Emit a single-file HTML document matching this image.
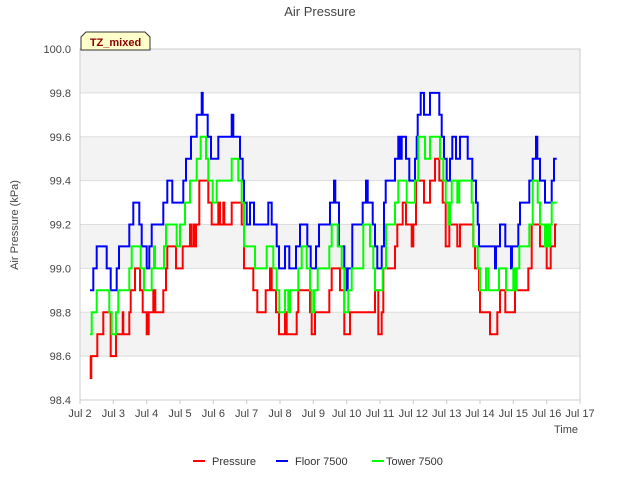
<!DOCTYPE html>
<html><head><meta charset="utf-8"><style>
body{margin:0;background:#fff;font-family:"Liberation Sans",sans-serif}
</style></head><body>
<svg width="640" height="480" xmlns="http://www.w3.org/2000/svg" font-family="Liberation Sans, sans-serif">
<text x="320" y="16" text-anchor="middle" font-size="13" fill="#444">Air Pressure</text>
<g id="bands"></g><g id="grid"></g><g id="yticks"></g><g id="xticks"></g>
<rect x="80" y="49" width="500" height="351" fill="none" stroke="#ccc"/>
<g id="series"></g>
<text transform="translate(18,225) rotate(-90)" text-anchor="middle" font-size="11" fill="#444">Air Pressure (kPa)</text>
<text x="578" y="433" text-anchor="end" font-size="11" fill="#444">Time</text>
<g><path d="M81,50 L81,37 L86,32 L145,32 L150,37 L150,50 Z" fill="#ffffcc" stroke="#333"/>
<text x="115.5" y="46" text-anchor="middle" font-size="11" font-weight="bold" fill="#8b0000">TZ_mixed</text></g>
<g>
<line x1="193" y1="461" x2="205" y2="461" stroke="#f00" stroke-width="2"/>
<text x="212" y="465" font-size="11" fill="#333">Pressure</text>
<line x1="276" y1="461" x2="288" y2="461" stroke="#00f" stroke-width="2"/>
<text x="295" y="465" font-size="11" fill="#333">Floor 7500</text>
<line x1="372" y1="461" x2="384" y2="461" stroke="#0f0" stroke-width="2"/>
<text x="386" y="465" font-size="11" fill="#333">Tower 7500</text>
</g>
</svg>
<script>
const yTicks=[98.4,98.6,98.8,99.0,99.2,99.4,99.6,99.8,100.0];
const xTickLabels=["Jul 2","Jul 3","Jul 4","Jul 5","Jul 6","Jul 7","Jul 8","Jul 9","Jul 10","Jul 11","Jul 12","Jul 13","Jul 14","Jul 15","Jul 16","Jul 17"];
const xTickDays=[2,3,4,5,6,7,8,9,10,11,12,13,14,15,16,17];
const endDay=16.3;
const pressureT=[2.30,2.32,2.34,2.52,2.70,2.92,3.08,3.28,3.30,3.48,3.52,3.65,3.80,3.88,4.00,4.06,4.20,4.26,4.50,4.58,4.62,4.88,5.08,5.30,5.33,5.40,5.45,5.48,5.58,5.85,5.95,6.15,6.20,6.30,6.33,6.55,6.85,6.92,7.20,7.32,7.57,7.70,7.75,7.88,7.97,8.15,8.20,8.50,8.55,8.90,8.95,9.05,9.48,9.55,9.80,9.93,10.10,10.85,10.95,11.05,11.10,11.45,11.52,11.68,11.78,11.95,12.00,12.08,12.32,12.50,12.65,12.78,12.88,12.97,13.08,13.32,13.40,13.80,13.85,13.97,14.00,14.30,14.52,14.60,14.76,15.05,15.45,15.55,15.80,16.00,16.12,16.25];
const pressureV=[98.6,98.5,98.6,98.7,98.8,98.6,98.7,98.8,98.7,98.8,98.9,99.0,98.9,98.8,98.7,98.8,98.9,98.8,98.9,99.0,99.1,99.0,99.1,99.2,99.1,99.2,99.1,99.2,99.4,99.3,99.2,99.3,99.2,99.3,99.2,99.3,99.2,99.0,98.9,98.8,98.9,99.0,98.9,98.8,98.7,98.8,98.7,98.8,98.9,98.8,98.7,98.8,98.9,99.0,98.9,98.7,98.8,98.9,98.7,98.8,99.0,99.1,99.2,99.3,99.2,99.1,99.2,99.4,99.3,99.4,99.5,99.4,99.3,99.1,99.2,99.1,99.2,99.1,99.0,98.9,98.8,98.7,98.8,98.9,98.8,98.9,99.0,99.2,99.1,99.0,99.1,99.2];
const floorT=[2.30,2.40,2.50,2.80,2.92,3.10,3.17,3.48,3.60,3.78,3.85,4.00,4.08,4.15,4.50,4.62,4.77,5.10,5.18,5.33,5.50,5.65,5.68,5.83,5.93,6.15,6.55,6.60,6.80,6.88,6.92,7.00,7.10,7.22,7.65,7.75,7.90,7.97,8.15,8.28,8.48,8.60,8.82,8.92,9.08,9.17,9.50,9.62,9.66,9.77,9.93,10.00,10.03,10.17,10.48,10.58,10.63,10.78,10.85,10.92,11.05,11.12,11.17,11.45,11.55,11.60,11.65,11.78,11.88,12.05,12.10,12.13,12.22,12.32,12.50,12.78,12.85,12.92,13.00,13.10,13.17,13.28,13.40,13.63,13.77,13.88,13.93,13.97,14.45,14.48,14.60,14.76,14.93,14.96,15.15,15.20,15.48,15.58,15.68,15.72,15.80,15.95,16.15,16.22];
const floorV=[98.9,99.0,99.1,99.0,98.9,99.0,99.1,99.2,99.3,99.2,99.1,99.0,99.1,99.2,99.3,99.4,99.3,99.4,99.5,99.6,99.7,99.8,99.7,99.6,99.5,99.6,99.7,99.6,99.5,99.4,99.3,99.2,99.3,99.2,99.3,99.2,99.1,99.0,99.1,99.0,99.1,99.2,99.1,99.0,99.1,99.2,99.3,99.4,99.3,99.1,99.0,98.9,99.0,99.2,99.3,99.4,99.3,99.2,99.1,99.0,99.1,99.3,99.4,99.5,99.6,99.5,99.6,99.5,99.4,99.5,99.6,99.7,99.8,99.7,99.8,99.7,99.6,99.5,99.4,99.5,99.6,99.5,99.6,99.5,99.4,99.3,99.2,99.1,99.0,99.1,99.2,99.1,99.0,99.1,99.2,99.3,99.4,99.5,99.6,99.5,99.4,99.3,99.4,99.5];
const towerT=[2.30,2.35,2.50,2.88,2.95,3.08,3.15,3.48,3.55,3.82,3.92,4.15,4.22,4.25,4.52,4.58,4.90,5.00,5.15,5.30,5.50,5.62,5.78,5.85,5.98,6.10,6.55,6.75,6.85,6.92,7.25,7.60,7.80,7.90,7.98,8.15,8.25,8.30,8.55,8.65,8.80,8.90,8.95,9.02,9.13,9.48,9.55,9.73,9.85,9.93,10.05,10.15,10.50,10.70,10.80,10.85,11.08,11.18,11.45,11.55,11.80,12.05,12.15,12.35,12.50,12.80,12.90,12.97,13.05,13.10,13.15,13.32,13.38,13.75,13.80,13.93,14.00,14.18,14.25,14.57,14.78,15.00,15.05,15.10,15.18,15.48,15.58,15.73,15.80,15.95,16.00,16.05,16.10,16.15];
const towerV=[98.7,98.8,98.9,98.8,98.7,98.8,98.9,99.0,99.1,99.0,98.9,99.0,99.1,99.0,99.1,99.2,99.1,99.2,99.3,99.4,99.5,99.6,99.5,99.4,99.3,99.4,99.5,99.4,99.3,99.1,99.0,99.1,99.0,98.9,98.8,98.9,98.8,98.9,99.0,99.1,99.0,98.9,98.8,98.9,99.0,99.1,99.2,99.1,99.0,98.8,98.9,99.0,99.2,99.1,99.0,98.9,99.0,99.2,99.3,99.4,99.3,99.4,99.6,99.5,99.6,99.5,99.4,99.3,99.2,99.3,99.4,99.3,99.4,99.3,99.1,99.0,98.9,99.0,98.9,99.0,98.9,99.0,98.9,99.0,99.1,99.2,99.4,99.3,99.2,99.1,99.2,99.1,99.2,99.3];

const X0=80,X1=580,Y0=400,Y1=49;
function xs(d){return X0+(d-2)/15*(X1-X0);}
function ys(v){return Y0-(v-98.4)/1.6*(Y0-Y1);}
const NS="http://www.w3.org/2000/svg";
function mk(tag,attrs,parent){const e=document.createElementNS(NS,tag);for(const k in attrs)e.setAttribute(k,attrs[k]);document.getElementById(parent).appendChild(e);return e;}
for(let i=0;i<yTicks.length-1;i++){
  if(i%2===1){
    const r=mk('rect',{x:X0,y:ys(yTicks[i+1]),width:X1-X0,height:ys(yTicks[i])-ys(yTicks[i+1]),fill:'#f3f3f3'},'bands');
    
    
  }
}
yTicks.forEach(v=>{
  const l=mk('line',{x1:X0,x2:X1,y1:ys(v),y2:ys(v),stroke:'#ddd'},'grid');
  
  
  const t=mk('text',{x:71,y:ys(v)+4,'text-anchor':'end','font-size':11,fill:'#444'},'yticks');
  t.textContent=v.toFixed(1);
  
  
});
xTickDays.forEach((d,i)=>{
  const l=mk('line',{x1:xs(d),x2:xs(d),y1:Y0,y2:Y0+4,stroke:'#ccc'},'xticks');
  
  
  const t=mk('text',{x:xs(d),y:417,'text-anchor':'middle','font-size':11,fill:'#444'},'xticks');
  t.textContent=xTickLabels[i];
  
  
});
function stepPath(T,V){
  let d='M'+xs(T[0]).toFixed(1)+','+ys(V[0]).toFixed(1);
  for(let i=1;i<T.length;i++){d+=' H'+xs(T[i]).toFixed(1)+' V'+ys(V[i]).toFixed(1);}
  d+=' H'+xs(endDay).toFixed(1);
  return d;
}
[[pressureT,pressureV,'#ff0000','pressure-line'],[floorT,floorV,'#0000ff','floor-7500-line'],[towerT,towerV,'#00ff00','tower-7500-line']].forEach(s=>{
  const p=mk('path',{d:stepPath(s[0],s[1]),fill:'none',stroke:s[2],'stroke-width':2},'series');
  
  
});
</script>
</body></html>
